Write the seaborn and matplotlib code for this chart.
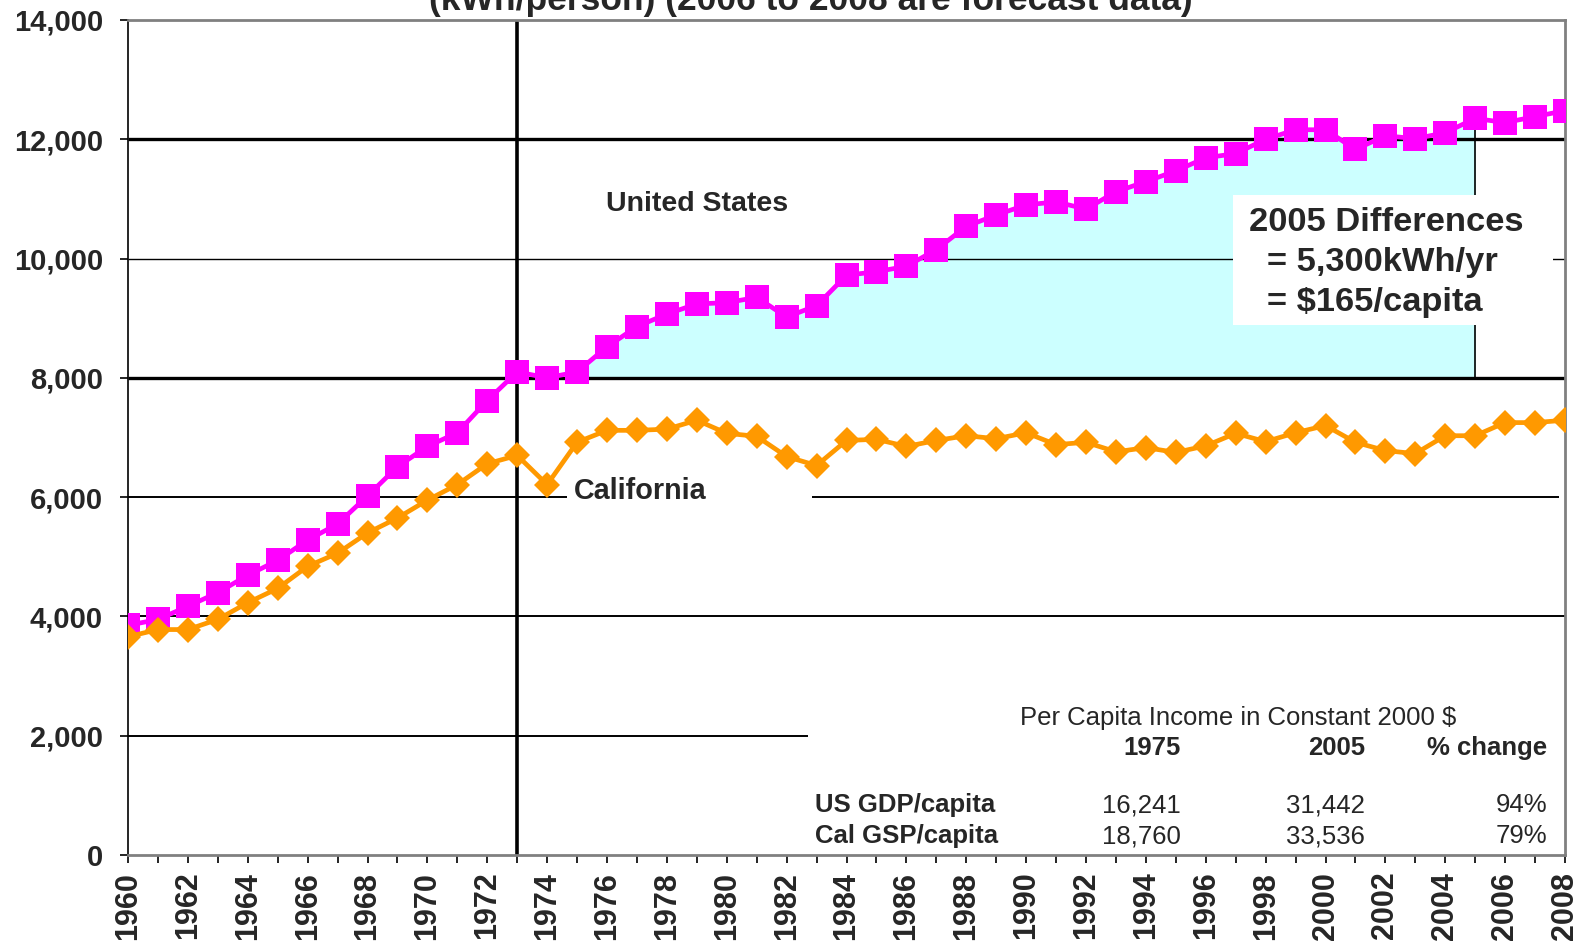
import numpy as np
import pandas as pd
import matplotlib
matplotlib.use("Agg")
import matplotlib.pyplot as plt
import seaborn as sns
from matplotlib.ticker import FuncFormatter, MultipleLocator

# ---------------- data ----------------
years = list(range(1960, 2009))
us_kwh = [3850, 3950, 4170, 4400, 4690, 4940, 5280, 5550, 6020, 6510,
          6850, 7080, 7620, 8100, 8000, 8100, 8520, 8860, 9070, 9240,
          9260, 9350, 9020, 9210, 9720, 9780, 9870, 10150, 10540, 10730,
          10900, 10950, 10830, 11120, 11290, 11470, 11690, 11760, 12000, 12160,
          12160, 11830, 12060, 12010, 12110, 12350, 12280, 12380, 12480]
ca_kwh = [3660, 3780, 3780, 3950, 4230, 4470, 4840, 5060, 5400, 5650,
          5950, 6210, 6560, 6700, 6210, 6920, 7120, 7120, 7140, 7290,
          7070, 7020, 6680, 6530, 6950, 6970, 6850, 6950, 7030, 6980,
          7080, 6880, 6920, 6760, 6830, 6750, 6860, 7070, 6930, 7080,
          7200, 6920, 6780, 6730, 7030, 7030, 7250, 7250, 7290]

series_labels = ["United States", "California"]
title_text = "(kWh/person) (2006 to 2008 are forecast data)"
diff_text = ["2005 Differences", "= 5,300kWh/yr", "= $165/capita"]

table_title = "Per Capita Income in Constant 2000 $"
table_cols = ["1975", "2005", "% change"]
table_rows = ["US GDP/capita", "Cal GSP/capita"]
table_vals = [["16,241", "31,442", "94%"],
              ["18,760", "33,536", "79%"]]

df = pd.DataFrame({"year": years, "us": us_kwh, "ca": ca_kwh})

# ---------------- style ----------------
sns.set_style("white")
plt.rcParams["font.family"] = ["Liberation Sans", "DejaVu Sans"]

MAGENTA = "#FF00FF"
ORANGE = "#FF9900"
CYAN = "#CCFFFF"

fig = plt.figure(figsize=(15.77, 9.41), dpi=100)
ax = fig.add_axes([128 / 1577, 86 / 941, (1565 - 128) / 1577, (855 - 20) / 941])
ax.set_xlim(1960, 2008)
ax.set_ylim(0, 14000)

# shaded difference area
yr = np.array(years)
us_arr = np.array(us_kwh)
mask = (yr >= 1975) & (yr <= 2005)
ax.fill_between(yr[mask], us_arr[mask], 8000, color=CYAN, lw=0, zorder=1)

# horizontal reference lines
ax.hlines(2000, 1960, 1982.7, color="black", lw=1.4, zorder=2)
ax.hlines(4000, 1960, 2008, color="black", lw=1.4, zorder=2)
ax.hlines(6000, 1960, 1974.65, color="black", lw=1.4, zorder=2)
ax.hlines(6000, 1982.85, 2007.8, color="black", lw=1.4, zorder=2)
ax.hlines(10000, 1960, 2008, color="black", lw=1.0, zorder=2)
ax.hlines(8000, 1960, 2008, color="black", lw=2.4, zorder=2)
ax.hlines(12000, 1960, 2008, color="black", lw=2.4, zorder=2)

# vertical markers
ax.vlines(1973, 0, 14000, color="black", lw=2.6, zorder=2)
ax.vlines(2005, 8000, 12350, color="black", lw=1.2, zorder=2)

# series
sns.lineplot(data=df, x="year", y="us", ax=ax, color=MAGENTA, lw=3.4,
             marker="s", markersize=17, markeredgewidth=0, zorder=4)
sns.lineplot(data=df, x="year", y="ca", ax=ax, color=ORANGE, lw=3.4,
             marker="D", markersize=13.5, markeredgewidth=0, zorder=4)

# white box for 2005 differences
ax.add_patch(plt.Rectangle((1996.9, 8886), 2007.6 - 1996.9, 11069 - 8886,
                           facecolor="white", edgecolor="none", zorder=3))
DS = 24.8
ax.text(1997.45, 10605, diff_text[0], fontsize=DS, fontweight="bold",
        va="center", ha="left", zorder=5)
ax.text(1998.05, 9935, diff_text[1], fontsize=DS, fontweight="bold",
        va="center", ha="left", zorder=5)
ax.text(1998.05, 9265, diff_text[2], fontsize=DS, fontweight="bold",
        va="center", ha="left", zorder=5)

# series labels
ax.text(1979.0, 10915, series_labels[0], fontsize=20.5, fontweight="bold",
        ha="center", va="center", zorder=5)
ax.text(1974.9, 6103, series_labels[1], fontsize=20.7, fontweight="bold",
        ha="left", va="center", zorder=5)

# income table
TS = 18.5
ax.text(1997.07, 2297, table_title, fontsize=TS,
        ha="center", va="center", zorder=5)
col_x = [1995.17, 2001.32, 2007.4]
for cx, lab in zip(col_x, table_cols):
    ax.text(cx, 1794, lab, fontsize=TS, fontweight="bold",
            ha="right", va="center", zorder=5)
row_y = [838, 318]
for ry, rlab, vals in zip(row_y, table_rows, table_vals):
    ax.text(1982.95, ry, rlab, fontsize=TS, fontweight="bold",
            ha="left", va="center", zorder=5)
    for cx, v in zip(col_x, vals):
        ax.text(cx, ry, v, fontsize=TS,
                ha="right", va="center", zorder=5)

# title (clipped at top as in the reference)
fig.text(0.514, 1 - 10 / 941, title_text, fontsize=25.5, fontweight="bold",
         ha="center", va="baseline")

# axes styling
ax.xaxis.set_major_locator(MultipleLocator(2))
ax.xaxis.set_minor_locator(MultipleLocator(1))
ax.yaxis.set_major_locator(MultipleLocator(2000))
ax.yaxis.set_major_formatter(FuncFormatter(lambda v, p: f"{int(v):,}"))
ax.tick_params(axis="x", which="both", direction="out", length=6, width=1.2,
               color="black", bottom=True)
ax.tick_params(axis="x", which="major", labelsize=22, pad=6, labelrotation=90)
ax.tick_params(axis="y", which="major", direction="out", length=6, width=1.2,
               color="black", left=True, labelsize=21, pad=12)
for lab in ax.get_xticklabels() + ax.get_yticklabels():
    lab.set_fontweight("bold")
for lab in ax.get_xticklabels():
    lab.set_va("top")
ax.set_xlabel("")
ax.set_ylabel("")

ax.spines["left"].set_color("black")
ax.spines["left"].set_linewidth(1.2)
for s in ["bottom", "top", "right"]:
    ax.spines[s].set_color("#808080")
    ax.spines[s].set_linewidth(2.0)
ax.grid(False)

fig.savefig("out.png", dpi=100)
